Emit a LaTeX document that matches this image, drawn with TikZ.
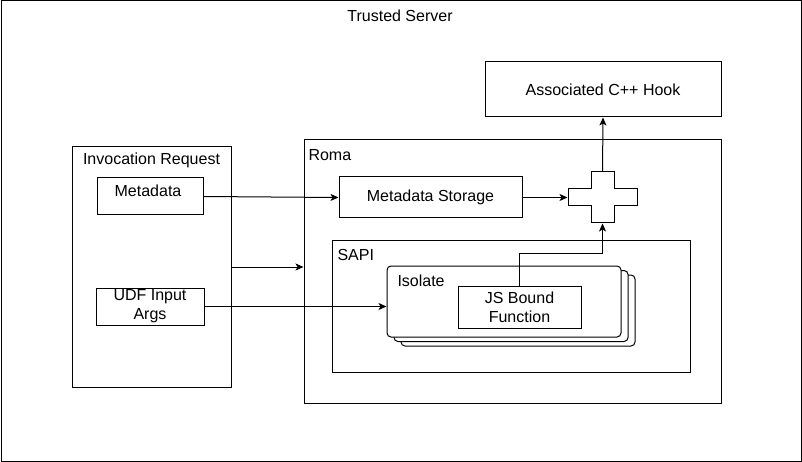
\documentclass[tikz,border=0pt]{standalone}
\usepackage{fontspec}
\setmainfont{Liberation Sans}
\usetikzlibrary{arrows.meta}
\begin{document}
\begin{tikzpicture}[x=1pt,y=-1pt, line width=1pt,
  font=\fontsize{16}{19}\selectfont,
  box/.style={draw, rectangle, inner sep=0pt, align=center},
  lbl/.style={inner sep=0pt, anchor=west},
  stackbox/.style={draw, fill=white, rounded corners=4pt, minimum width=234, minimum height=71},
  arr/.style={-{Stealth[length=8pt,width=7pt,inset=2pt]}}]
\useasboundingbox (0,0) rectangle (802,462);
% outer
\node[box, minimum width=800, minimum height=460] (ts) at (401,231) {};
\node[inner sep=0pt] (tstitle) at (400,16) {Trusted Server};
% hook
\node[box, minimum width=236, minimum height=55] (hook) at (603,89.5) {Associated C++ Hook};
% roma
\node[box, minimum width=417, minimum height=263] (roma) at (512.5,271.5) {};
\node[lbl] (romal) at (308,155) {Roma};
% invocation request
\node[box, minimum width=159, minimum height=240] (inv) at (151.5,267) {};
\node[inner sep=0pt] (invl) at (151.5,160) {Invocation Request};
\node[box, minimum width=106, minimum height=37] (meta) at (150,196.5) {};
\node[inner sep=0pt] (metal) at (148,191) {Metadata};
\node[box, minimum width=108, minimum height=37] (udf) at (150,306.5) {UDF Input\\Args};
% metadata storage
\node[box, minimum width=183, minimum height=41] (store) at (430.5,197.5) {Metadata Storage};
% cross
\node[minimum width=69, minimum height=51, inner sep=0pt] (cross) at (602.5,197.5) {};
\draw (568,189) -- (591,189) -- (591,172) -- (614,172) -- (614,189) -- (637,189)
  -- (637,206) -- (614,206) -- (614,223) -- (591,223) -- (591,206) -- (568,206) -- cycle;
% SAPI
\node[box, minimum width=358, minimum height=132] (sapi) at (511,306) {};
\node[lbl] (sapil) at (337,255) {SAPI};
% isolate stack
\node[stackbox] (iso3) at (518,310.5) {};
\node[stackbox] (iso2) at (511,306) {};
\node[stackbox] (iso) at (504,301.5) {};
\node[lbl] (isol) at (397,281) {Isolate};
\node[box, minimum width=123, minimum height=42] (js) at (519.5,307) {JS Bound\\Function};
% connectors
\coordinate (turn) at (519.5,253);
\draw[arr] (js.north) -- (turn) -| (cross.south);
\draw[arr] (cross.north) -- (hook.south);
\draw[arr] (store.east) -- (cross.west);
\draw[arr] (meta.east) -- (store.west);
\draw[arr] (udf.east) -- (udf.east -| iso.west);
\draw[arr] (inv.east) -- (inv.east -| roma.west);
\end{tikzpicture}
\end{document}
